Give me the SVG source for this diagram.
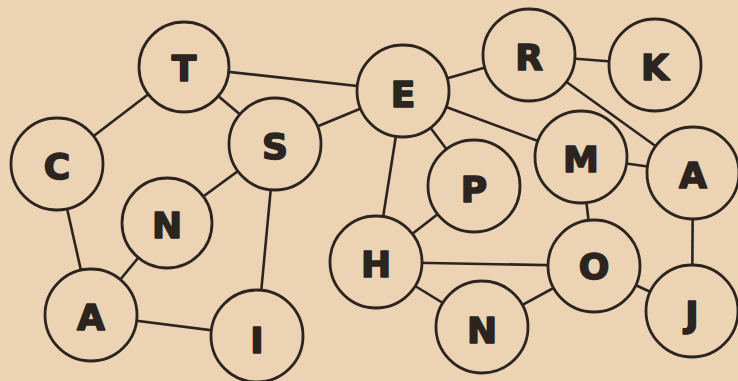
<svg xmlns="http://www.w3.org/2000/svg" width="738" height="381" viewBox="0 0 738 381">
<style>
.bg{fill:#ecd3b3}
.e line{stroke:#2b241f;stroke-width:2.6}
.n circle{fill:#ecd3b3;stroke:#2b241f;stroke-width:2.8}
.n text{font-family:"DejaVu Sans",sans-serif;font-weight:bold;font-size:36px;fill:#2b241f;stroke:#2b241f;stroke-width:1.6;stroke-linejoin:round;text-anchor:middle;dominant-baseline:central}
</style>
<rect class="bg" width="738" height="381"/>
<g id="connectors" class="e">
<line x1="184" y1="67" x2="403" y2="91"/>
<line x1="184" y1="67" x2="57" y2="164"/>
<line x1="184" y1="67" x2="275" y2="144"/>
<line x1="275" y1="144" x2="403" y2="91"/>
<line x1="275" y1="144" x2="167" y2="223"/>
<line x1="275" y1="144" x2="257" y2="336"/>
<line x1="57" y1="164" x2="91" y2="315"/>
<line x1="167" y1="223" x2="91" y2="315"/>
<line x1="91" y1="315" x2="257" y2="336"/>
<line x1="403" y1="91" x2="529" y2="55"/>
<line x1="529" y1="55" x2="655" y2="65"/>
<line x1="529" y1="55" x2="693" y2="173"/>
<line x1="403" y1="91" x2="474" y2="186"/>
<line x1="403" y1="91" x2="581" y2="157"/>
<line x1="403" y1="91" x2="376" y2="262"/>
<line x1="581" y1="157" x2="693" y2="173"/>
<line x1="581" y1="157" x2="594" y2="266"/>
<line x1="693" y1="173" x2="692" y2="311"/>
<line x1="474" y1="186" x2="376" y2="262"/>
<line x1="376" y1="262" x2="594" y2="266"/>
<line x1="376" y1="262" x2="482" y2="327"/>
<line x1="482" y1="327" x2="594" y2="266"/>
<line x1="594" y1="266" x2="692" y2="311"/>
</g>
<g id="node-T" class="n"><circle cx="184" cy="67" r="45"/><text x="184" y="68">T</text></g>
<g id="node-C" class="n"><circle cx="57" cy="164" r="46"/><text x="57" y="166">C</text></g>
<g id="node-S" class="n"><circle cx="275" cy="144" r="46"/><text x="275" y="146">S</text></g>
<g id="node-N1" class="n"><circle cx="167" cy="223" r="45"/><text x="167" y="225">N</text></g>
<g id="node-A1" class="n"><circle cx="91" cy="315" r="46"/><text x="91" y="317">A</text></g>
<g id="node-I" class="n"><circle cx="257" cy="336" r="46"/><text x="257" y="340">I</text></g>
<g id="node-E" class="n"><circle cx="403" cy="91" r="46"/><text x="403" y="94">E</text></g>
<g id="node-R" class="n"><circle cx="529" cy="55" r="46"/><text x="529" y="57">R</text></g>
<g id="node-K" class="n"><circle cx="655" cy="65" r="46"/><text x="655" y="67">K</text></g>
<g id="node-P" class="n"><circle cx="474" cy="186" r="46"/><text x="474" y="189">P</text></g>
<g id="node-M" class="n"><circle cx="581" cy="157" r="46"/><text x="581" y="159">M</text></g>
<g id="node-A2" class="n"><circle cx="693" cy="173" r="46"/><text x="693" y="175">A</text></g>
<g id="node-H" class="n"><circle cx="376" cy="262" r="46"/><text x="376" y="264">H</text></g>
<g id="node-O" class="n"><circle cx="594" cy="266" r="46"/><text x="594" y="266">O</text></g>
<g id="node-N2" class="n"><circle cx="482" cy="327" r="46"/><text x="482" y="330">N</text></g>
<g id="node-J" class="n"><circle cx="692" cy="311" r="46"/><text x="692" y="314">J</text></g>
</svg>
